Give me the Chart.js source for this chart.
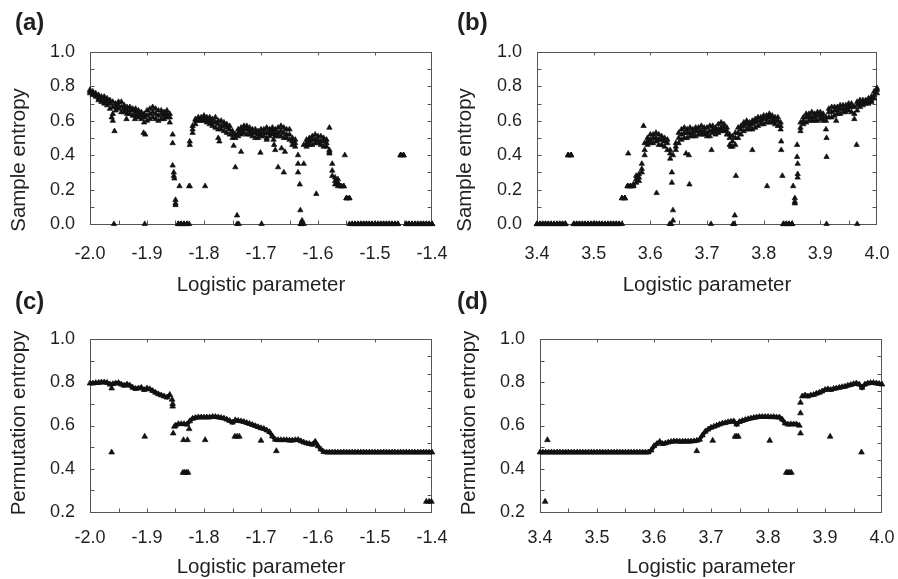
<!DOCTYPE html>
<html>
<head>
<meta charset="utf-8">
<script src="https://cdn.jsdelivr.net/npm/chart.js@4"></script>
<style>
  body { margin: 0; background: #fff; }
  canvas { position: absolute; }
</style>
</head>
<body>
<canvas id="pa"></canvas>
<canvas id="pb"></canvas>
<canvas id="pc"></canvas>
<canvas id="pd"></canvas>
<script>
// parameter grid spacing shared by all four sweeps
const STEP = 0.005;
const negStart = -2.0;
const posStart = 3.4;

// (a) sample entropy, negative parameter range: band top / middle / bottom
const aHi = [
  0.78,0.77,0.76,0.75,0.74,0.74,0.73,0.72,0.71,0.70,
  0.71,0.71,0.69,0.68,0.68,0.67,0.67,0.66,0.65,0.64,
  0.66,0.67,0.68,0.67,0.66,0.66,0.65,0.66,0.64,0.52,
  0.14,0,0,0,0,0.48,0.57,0.61,0.62,0.62,
  0.63,0.62,0.62,0.61,0.62,0.60,0.60,0.59,0.58,0.57,
  0.54,0.52,0.55,0.56,0.57,0.57,0.56,0.55,0.55,0.54,
  0.55,0.55,0.56,0.55,0.56,0.55,0.56,0.57,0.56,0.55,
  0.55,0.50,0.49,0.40,0,0.46,0.49,0.50,0.51,0.52,
  0.51,0.51,0.50,0.49,0.43,0.35,0.27,0.26,0.22,0.22,
  0.15,0.15,0,0,0,0,0,0,0,0,
  0,0,0,0,0,0,0,0,0,0.40,
  0.40,0,0,0,0,0,0,0,0,0,
  0];
const aMid = [
  0.77,0.76,0.75,0.73,0.72,0.72,0.71,0.70,0.68,0.68,
  0.69,0.68,0.67,0.66,0.66,0.66,0.65,0.64,0.63,0.62,
  0.63,0.64,0.65,0.64,0.63,0.64,0.63,0.64,0.62,0.47,
  0.12,0,0,0,0,0.46,0.55,0.60,0.61,0.61,
  0.62,0.61,0.60,0.59,0.59,0.58,0.57,0.57,0.56,0.55,
  0.52,0.50,0.53,0.54,0.55,0.55,0.54,0.53,0.53,0.52,
  0.53,0.53,0.53,0.53,0.54,0.53,0.53,0.54,0.53,0.52,
  0.52,0.48,0.47,0.35,0,0.35,0.47,0.48,0.49,0.49,
  0.49,0.48,0.48,0.47,0.42,0.31,0.25,0.24,0.22,0.22,
  0.15,0.15,0,0,0,0,0,0,0,0,
  0,0,0,0,0,0,0,0,0,0.40,
  0.40,0,0,0,0,0,0,0,0,0,
  0];
const aLo = [
  0.76,0.75,0.74,0.72,0.71,0.70,0.69,0.67,0.64,0.66,
  0.67,0.65,0.65,0.64,0.64,0.63,0.63,0.62,0.61,0.59,
  0.60,0.61,0.62,0.61,0.60,0.61,0.61,0.62,0.59,0.34,
  0.11,0,0,0,0,0.22,0.53,0.58,0.60,0.60,
  0.60,0.59,0.58,0.57,0.56,0.55,0.55,0.54,0.53,0.52,
  0.50,0.33,0.51,0.52,0.53,0.52,0.52,0.51,0.50,0.50,
  0.51,0.51,0.50,0.51,0.52,0.51,0.51,0.51,0.50,0.50,
  0.49,0.46,0.45,0.30,0,0,0.45,0.46,0.46,0.47,
  0.47,0.46,0.45,0.45,0.41,0.28,0.23,0.22,0.22,0.22,
  0.15,0,0,0,0,0,0,0,0,0,
  0,0,0,0,0,0,0,0,0,0.40,
  0.40,0,0,0,0,0,0,0,0,0,
  0];
const aExtra = [
  [-1.962,0.62],[-1.960,0.60],[-1.957,0.54],[-1.958,0],[-1.936,0.61],[-1.921,0.61],
  [-1.906,0.53],[-1.903,0.52],[-1.904,0],[-1.853,0.30],[-1.853,0.28],[-1.852,0.265],
  [-1.843,0.22],[-1.826,0.22],[-1.826,0],[-1.798,0.22],[-1.775,0.50],[-1.773,0.48],
  [-1.748,0.455],[-1.742,0.05],[-1.742,0],[-1.739,0],[-1.735,0.42],[-1.701,0.415],
  [-1.699,0],[-1.690,0.49],[-1.678,0.49],[-1.677,0.46],[-1.675,0.43],[-1.670,0.33],
  [-1.664,0.44],[-1.660,0.30],[-1.658,0.42],[-1.632,0.23],[-1.631,0.08],[-1.628,0.02],
  [-1.603,0.175],[-1.580,0.56],[-1.553,0.40]];

// (b) sample entropy, positive parameter range
const bHi = [
  0,0,0,0,0,0,0,0,0,0,
  0,0.40,0.40,0,0,0,0,0,0,0,
  0,0,0,0,0,0,0,0,0,0,
  0.15,0.15,0.22,0.22,0.23,0.28,0.29,0.35,0.47,0.50,
  0.52,0.52,0.53,0.52,0.51,0.50,0.49,0.43,0.40,0.47,
  0.53,0.55,0.56,0.55,0.56,0.55,0.56,0.56,0.57,0.56,
  0.56,0.57,0.57,0.56,0.58,0.59,0.58,0.56,0.52,0.51,
  0.53,0.56,0.57,0.59,0.60,0.59,0.60,0.61,0.62,0.62,
  0.63,0.63,0.64,0.63,0.62,0.62,0.59,0,0,0,
  0,0.15,0.35,0.59,0.62,0.64,0.64,0.65,0.64,0.65,
  0.65,0.64,0.62,0.67,0.68,0.68,0.68,0.69,0.69,0.69,
  0.70,0.70,0.68,0.71,0.72,0.72,0.72,0.73,0.74,0.77,
  0.79];
const bMid = [
  0,0,0,0,0,0,0,0,0,0,
  0,0.40,0.40,0,0,0,0,0,0,0,
  0,0,0,0,0,0,0,0,0,0,
  0.15,0.15,0.22,0.22,0.22,0.26,0.27,0.32,0.43,0.48,
  0.49,0.50,0.50,0.49,0.49,0.48,0.47,0.41,0.08,0.45,
  0.50,0.52,0.53,0.53,0.53,0.53,0.54,0.54,0.54,0.54,
  0.53,0.54,0.55,0.54,0.55,0.56,0.56,0.54,0.50,0.48,
  0.50,0.53,0.55,0.57,0.58,0.57,0.58,0.59,0.60,0.60,
  0.61,0.61,0.62,0.61,0.60,0.60,0.57,0,0,0,
  0,0.13,0.29,0.56,0.60,0.62,0.62,0.62,0.62,0.63,
  0.63,0.62,0.60,0.65,0.65,0.66,0.66,0.67,0.67,0.67,
  0.68,0.68,0.64,0.69,0.70,0.70,0.71,0.71,0.72,0.75,
  0.78];
const bLo = [
  0,0,0,0,0,0,0,0,0,0,
  0,0.40,0.40,0,0,0,0,0,0,0,
  0,0,0,0,0,0,0,0,0,0,
  0,0.15,0.22,0.22,0.22,0.24,0.25,0.30,0.40,0.46,
  0.47,0.47,0.48,0.46,0.46,0.45,0.43,0.38,0.02,0.43,
  0.47,0.49,0.50,0.50,0.51,0.51,0.51,0.52,0.52,0.52,
  0.51,0.51,0.53,0.52,0.53,0.54,0.54,0.52,0.46,0.45,
  0.46,0.50,0.52,0.54,0.55,0.55,0.55,0.56,0.57,0.58,
  0.58,0.59,0.59,0.59,0.58,0.57,0.55,0,0,0,
  0,0.12,0.27,0.54,0.58,0.59,0.60,0.60,0.60,0.60,
  0.61,0.60,0.55,0.62,0.62,0.63,0.64,0.64,0.65,0.65,
  0.66,0.65,0.61,0.66,0.68,0.69,0.70,0.70,0.71,0.73,
  0.76];
const bExtra = [
  [3.561,0.41],[3.588,0.57],[3.611,0.18],[3.634,0],[3.637,0],[3.638,0.30],[3.638,0.24],
  [3.663,0.41],[3.668,0.40],[3.669,0.23],[3.707,0],[3.708,0.43],[3.742,0.45],[3.746,0],
  [3.748,0],[3.749,0.05],[3.751,0.28],[3.780,0.43],[3.806,0.22],[3.831,0.48],[3.831,0.43],
  [3.833,0.28],[3.852,0.22],[3.859,0.39],[3.859,0.46],[3.911,0.50],[3.911,0.39],[3.911,0],
  [3.928,0.60],[3.964,0.46],[3.965,0]];

// (c) permutation entropy, negative parameter range
const cVal = [
  0.795,0.795,0.797,0.798,0.800,0.800,0.798,0.790,0.792,0.795,
  0.797,0.790,0.785,0.790,0.785,0.775,0.770,0.772,0.775,0.765,
  0.772,0.768,0.760,0.752,0.745,0.740,0.735,0.730,0.742,0.700,
  0.600,0.607,0.607,0.607,0.605,0.620,0.632,0.636,0.638,0.638,
  0.638,0.638,0.638,0.640,0.640,0.638,0.636,0.633,0.628,0.622,
  0.614,0.625,0.622,0.620,0.617,0.612,0.608,0.603,0.598,0.593,
  0.588,0.585,0.578,0.570,0.550,0.535,0.533,0.533,0.533,0.533,
  0.531,0.531,0.533,0.534,0.528,0.522,0.518,0.515,0.512,0.525,
  0.505,0.490,0.478,0.476,0.476,0.476,0.476,0.476,0.476,0.476,
  0.476,0.476,0.476,0.476,0.476,0.476,0.476,0.476,0.476,0.476,
  0.476,0.476,0.476,0.476,0.476,0.476,0.476,0.476,0.476,0.476,
  0.476,0.476,0.476,0.476,0.476,0.476,0.476,0.476,0.476,0.476,
  0.476];
const cExtra = [
  [-1.962,0.772],[-1.962,0.476],[-1.904,0.549],[-1.856,0.72],[-1.855,0.688],[-1.854,0.564],
  [-1.852,0.595],[-1.836,0.533],[-1.829,0.533],[-1.837,0.382],[-1.834,0.382],[-1.831,0.382],
  [-1.828,0.382],[-1.826,0.584],[-1.798,0.533],[-1.746,0.549],[-1.742,0.549],[-1.738,0.549],
  [-1.700,0.53],[-1.673,0.482],[-1.410,0.248],[-1.405,0.248],[-1.401,0.248]];

// (d) permutation entropy, positive parameter range
const dVal = [
  0.476,0.476,0.476,0.476,0.476,0.476,0.476,0.476,0.476,0.476,
  0.476,0.476,0.476,0.476,0.476,0.476,0.476,0.476,0.476,0.476,
  0.476,0.476,0.476,0.476,0.476,0.476,0.476,0.476,0.476,0.476,
  0.476,0.476,0.476,0.476,0.476,0.476,0.476,0.476,0.476,0.485,
  0.505,0.515,0.525,0.515,0.518,0.522,0.525,0.527,0.527,0.526,
  0.526,0.527,0.526,0.527,0.528,0.530,0.535,0.555,0.572,0.582,
  0.590,0.595,0.600,0.605,0.610,0.612,0.616,0.618,0.620,0.605,
  0.617,0.622,0.626,0.630,0.633,0.636,0.638,0.640,0.640,0.640,
  0.640,0.639,0.640,0.638,0.638,0.628,0.610,0.605,0.606,0.606,
  0.606,0.600,0.735,0.740,0.735,0.740,0.742,0.748,0.752,0.758,
  0.765,0.768,0.765,0.770,0.772,0.775,0.778,0.780,0.785,0.788,
  0.792,0.795,0.790,0.775,0.790,0.795,0.797,0.797,0.795,0.793,
  0.790];
const dExtra = [
  [3.409,0.248],[3.413,0.533],[3.675,0.482],[3.703,0.53],[3.742,0.549],[3.745,0.549],
  [3.748,0.549],[3.803,0.53],[3.832,0.382],[3.835,0.382],[3.838,0.382],[3.841,0.382],
  [3.857,0.564],[3.857,0.657],[3.857,0.706],[3.909,0.549],[3.964,0.476]];

const FONT = "'Liberation Sans', Arial, Helvetica, sans-serif";
const INK = '#231f20';
const AXIS = '#555';
const DOT = '#111';

function sweep(x0, vals) {
  return vals.map((v, i) => ({ x: +(x0 + i * STEP).toFixed(4), y: v }));
}
function pairs(list) {
  return list.map(p => ({ x: p[0], y: p[1] }));
}

// box with inward tick marks, plus the panel letter and axis titles
const framePlugin = {
  id: 'frame',
  beforeDatasetsDraw(chart, args, o) {
    const { ctx, chartArea: a } = chart;
    const xs = chart.scales.x, ys = chart.scales.y;
    const L = Math.round(a.left) + 0.5, R = Math.round(a.right) - 0.5;
    const T = Math.round(a.top) + 0.5, B = Math.round(a.bottom) + 0.5;
    ctx.save();
    ctx.strokeStyle = AXIS;
    ctx.lineWidth = 1;
    ctx.strokeRect(L, T, R - L, B - T);
    ctx.beginPath();
    const seg = (x1, y1, x2, y2) => { ctx.moveTo(x1, y1); ctx.lineTo(x2, y2); };
    const xAt = (k, n) => Math.round(xs.getPixelForValue(xs.min + k * (xs.max - xs.min) / n)) + 0.5;
    const yAt = (k, n) => Math.round(ys.getPixelForValue(ys.min + k * (ys.max - ys.min) / n)) + 0.5;
    for (let k = 1; k < o.bottomDiv; k++) { const p = xAt(k, o.bottomDiv); seg(p, B, p, B - 4); }
    for (let k = 1; k < o.topDiv; k++) { const p = xAt(k, o.topDiv); seg(p, T, p, T + 3); }
    for (let k = 1; k < o.leftDiv; k++) { const p = yAt(k, o.leftDiv); seg(L, p, L + 4, p); }
    for (let k = 1; k < o.rightDiv; k++) { const p = yAt(k, o.rightDiv); seg(R, p, R - 4, p); }
    ctx.stroke();
    ctx.restore();
  },
  afterDraw(chart, args, o) {
    const { ctx } = chart;
    const ox = o.box[0], oy = o.box[1];
    ctx.save();
    ctx.fillStyle = INK;
    ctx.textBaseline = 'middle';
    ctx.textAlign = 'left';
    ctx.font = 'bold 24px ' + FONT;
    ctx.fillText(o.letter, o.letterAt[0] - ox, o.letterAt[1] - oy);

    ctx.font = '20.5px ' + FONT;
    ctx.textAlign = 'center';
    ctx.textBaseline = 'alphabetic';
    ctx.fillText(o.xTitle, o.xTitleAt[0] - ox, o.xTitleAt[1] - oy);

    ctx.translate(o.yTitleAt[0] - ox, o.yTitleAt[1] - oy);
    ctx.rotate(-Math.PI / 2);
    ctx.textBaseline = 'middle';
    ctx.fillText(o.yTitle, 0, 0);
    ctx.restore();
  }
};

// hide the joining stroke across jumps so only the markers show there
const gapColor = ctx =>
  Math.abs(ctx.p0.parsed.y - ctx.p1.parsed.y) > 0.03 ? 'rgba(0,0,0,0)' : undefined;

function panel(p) {
  const [bl, bt, bw, bh] = p.box;
  const cv = document.getElementById(p.id);
  cv.width = bw; cv.height = bh;
  cv.style.left = bl + 'px'; cv.style.top = bt + 'px';
  cv.style.width = bw + 'px'; cv.style.height = bh + 'px';

  const dot = s => ({
    data: s.data, pointStyle: 'triangle', pointRadius: p.mark, pointHoverRadius: p.mark,
    backgroundColor: DOT, borderColor: DOT, borderWidth: s.line ? 4 : 0.7,
    pointBorderWidth: 0.7, showLine: !!s.line, segment: { borderColor: gapColor }, clip: false
  });

  return new Chart(cv, {
    type: 'scatter',
    data: { datasets: p.sets.map(dot) },
    options: {
      responsive: false,
      animation: false,
      events: [],
      layout: { padding: { left: 0, bottom: 0, top: p.area.t - bt, right: bl + bw - p.area.r } },
      plugins: {
        legend: { display: false },
        tooltip: { enabled: false },
        frame: {
          box: p.box, letter: p.letter, letterAt: p.letterAt,
          xTitle: 'Logistic parameter', xTitleAt: p.xTitleAt,
          yTitle: p.yTitle, yTitleAt: p.yTitleAt,
          bottomDiv: 12, topDiv: 6, leftDiv: p.leftDiv, rightDiv: 10
        }
      },
      scales: {
        x: {
          type: 'linear', min: p.xMin, max: p.xMax,
          grid: { display: false, drawTicks: false },
          border: { display: false },
          ticks: {
            stepSize: 0.1, autoSkip: false, maxRotation: 0, padding: p.xPad,
            color: INK, font: { family: FONT, size: 18 },
            callback: v => v.toFixed(1)
          },
          afterFit: s => { s.height = bt + bh - p.area.b; s.paddingLeft = 0; s.paddingRight = 0; }
        },
        y: {
          type: 'linear', min: p.yMin, max: 1.0,
          grid: { display: false, drawTicks: false },
          border: { display: false },
          ticks: {
            stepSize: 0.2, padding: 15,
            color: INK, font: { family: FONT, size: 18 },
            callback: v => v.toFixed(1)
          },
          afterFit: s => { s.width = p.area.l - bl; s.paddingTop = 0; s.paddingBottom = 0; }
        }
      }
    },
    plugins: [framePlugin]
  });
}

panel({
  id: 'pa', box: [0, 0, 449, 300], area: { l: 90, t: 52, r: 432, b: 224 },
  xMin: -2.0, xMax: -1.4, yMin: 0, leftDiv: 10, xPad: 19, mark: 3.1,
  letter: '(a)', letterAt: [15, 23], yTitle: 'Sample entropy', yTitleAt: [19, 160], xTitleAt: [261, 291],
  sets: [{ data: sweep(negStart, aHi) }, { data: sweep(negStart, aMid) },
         { data: sweep(negStart, aLo) }, { data: pairs(aExtra) }]
});
panel({
  id: 'pb', box: [449, 0, 449, 300], area: { l: 537, t: 52, r: 877, b: 224 },
  xMin: 3.4, xMax: 4.0, yMin: 0, leftDiv: 10, xPad: 19, mark: 3.1,
  letter: '(b)', letterAt: [457, 23], yTitle: 'Sample entropy', yTitleAt: [465, 160], xTitleAt: [707, 291],
  sets: [{ data: sweep(posStart, bHi) }, { data: sweep(posStart, bMid) },
         { data: sweep(posStart, bLo) }, { data: pairs(bExtra) }]
});
panel({
  id: 'pc', box: [0, 290, 449, 289], area: { l: 90, t: 339, r: 432, b: 512 },
  xMin: -2.0, xMax: -1.4, yMin: 0.2, leftDiv: 8, xPad: 15, mark: 3.3,
  letter: '(c)', letterAt: [15, 302], yTitle: 'Permutation entropy', yTitleAt: [19, 423], xTitleAt: [261, 573],
  sets: [{ data: sweep(negStart, cVal), line: true }, { data: pairs(cExtra) }]
});
panel({
  id: 'pd', box: [449, 290, 449, 289], area: { l: 540, t: 339, r: 882, b: 512 },
  xMin: 3.4, xMax: 4.0, yMin: 0.2, leftDiv: 8, xPad: 15, mark: 3.3,
  letter: '(d)', letterAt: [457, 302], yTitle: 'Permutation entropy', yTitleAt: [469, 423], xTitleAt: [711, 573],
  sets: [{ data: sweep(posStart, dVal), line: true }, { data: pairs(dExtra) }]
});
</script>
</body>
</html>
